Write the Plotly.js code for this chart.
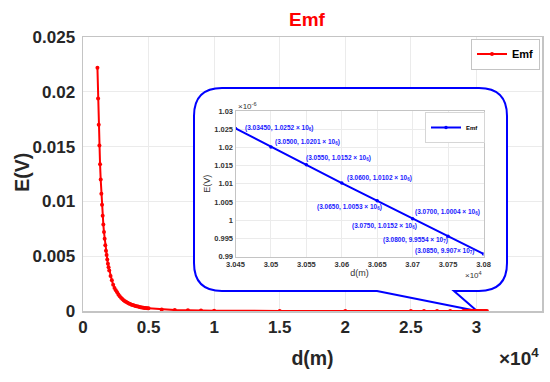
<!DOCTYPE html>
<html>
<head>
<meta charset="utf-8">
<script src="https://cdn.plot.ly/plotly-3.0.1.min.js"></script>
<style>html,body{margin:0;padding:0;background:#fff;}#chart{width:550px;height:382px;}</style>
</head>
<body>
<div id="chart"></div>
<script>
// ---- data ----
const distance = [1100,1150,1200,1250,1300,1350,1400,1450,1500,1550,1600,1650,1700,1750,1800,1850,1900,1950,2000,
  2100,2200,2300,2400,2500,2600,2700,2800,2900,3000,3100,3200,3300,3400,3500,3600,3700,3800,3900,4000,
  4100,4200,4300,4400,4500,4600,4700,4800,4900,5000,
  6000,7000,8000,9000,10000,15000,20000,25000,26000,27000,28000,
  29000,29100,29200,29300,29400,29500,29600,29700,29800,29900,30000,30100,30200,30300,30400,30500,30600,30700,30800];
const emf = [0.0222,0.0194,0.0170,0.0151,0.0134,0.0120,0.0107,0.0097,0.0087,0.0079,0.0072,0.0066,0.0060,0.0055,0.0051,0.0047,0.0043,0.0040,0.0037,
  0.0032,0.0028,0.0024,0.0021,0.0019,0.0017,0.0015,0.00135,0.0012,0.0011,0.00099,0.0009,0.00082,0.00075,0.00069,0.00063,0.00058,0.00054,0.0005,0.00046,
  0.00043,0.0004,0.00037,0.00035,0.00032,0.0003,0.00028,0.00027,0.00025,0.00024,
  0.00014,0.000086,0.000058,0.00004,0.00003,0.0000088,0.0000037,0.0000019,0.0000017,0.0000015,0.0000013,
  1.19e-6,1.17e-6,1.16e-6,1.15e-6,1.14e-6,1.12e-6,1.11e-6,1.10e-6,1.09e-6,1.08e-6,1.07e-6,1.06e-6,1.05e-6,1.04e-6,1.03e-6,1.02e-6,1.01e-6,1.00e-6,0.99e-6];

const insetDistance = [30450,30500,30550,30600,30650,30700,30750,30800];
const insetEmf = [1.0252e-6,1.0201e-6,1.0152e-6,1.0102e-6,1.0053e-6,1.0004e-6,0.99554e-6,0.9907e-6];

const xTickVals = [0,5000,10000,15000,20000,25000,30000];
const xTickText = ['0','0.5','1','1.5','2','2.5','3'];
const yTickVals = [0,0.005,0.01,0.015,0.02,0.025];
const yTickText = ['0','0.005','0.01','0.015','0.02','0.025'];
const insetXTickVals = [30450,30500,30550,30600,30650,30700,30750,30800];
const insetXTickText = ['3.045','3.05','3.055','3.06','3.065','3.07','3.075','3.08'];
const insetYTickVals = [0.99e-6,0.995e-6,1.0e-6,1.005e-6,1.01e-6,1.015e-6,1.02e-6,1.025e-6,1.03e-6];
const insetYTickText = ['0.99','0.995','1','1.005','1.01','1.015','1.02','1.025','1.03'];

const pointLabels = [
  '(3.03450, 1.0252 × 10<sub>6</sub>)',
  '(3.0500, 1.0201 × 10<sub>6</sub>)',
  '(3.0550, 1.0152 × 10<sub>6</sub>)',
  '(3.0600, 1.0102 × 10<sub>6</sub>)',
  '(3.0650, 1.0053 × 10<sub>6</sub>)',
  '(3.0700, 1.0004 × 10<sub>6</sub>)',
  '(3.0750, 1.0152 × 10<sub>6</sub>)',
  '(3.0800, 9.9554 × 10<sub>7</sub>)',
  '(3.0850, 9.907× 10<sub>7</sub>)'
];

// ---- layout helpers ----
const FONT = 'Liberation Sans, Arial, sans-serif';
const PL = 83, PR = 542, PT = 37, PB = 311;
const XMAX = 35000, YMAX = 0.025;
const dx = p => (p - PL) / (PR - PL);
const dy = p => (PB - p) / (PB - PT);

// inset plot area in pixels
const IL = 235.5, IR = 483.5, IT = 111, IB = 256.5;

// label anchor positions (pixels: left x, middle y)
const labelPos = [[242.7,128.3],[272.7,142.3],[304,157.7],[345.3,177.7],[315,207.3],[412.7,212.3],[350,225.7],[380.7,240.3],[412.7,250.7]];

const labelAnnotations = pointLabels.map((t, i) => ({
  text: t, xref: 'paper', yref: 'paper',
  x: dx(labelPos[i][0]), y: dy(labelPos[i][1]),
  xanchor: 'left', yanchor: 'middle', showarrow: false,
  font: {family: FONT, size: 6.5, color: '#1a1aff', weight: 'bold'}
}));

// callout bubble path (pixel coords -> main-axis data coords)
const r = 28;
const bL = 194, bR = 507, bT = 88, bB = 291;
function P(x, y){ return (dx(x) * XMAX).toFixed(2) + ',' + (dy(y) * YMAX).toFixed(7); }
const bubblePath =
  'M' + P(bL + r, bT) +
  ' L' + P(bR - r, bT) +
  ' Q' + P(bR, bT) + ' ' + P(bR, bT + r) +
  ' L' + P(bR, bB - r) +
  ' Q' + P(bR, bB) + ' ' + P(bR - r, bB) +
  ' L' + P(454, bB) +
  ' L' + P(477, 311) +
  ' L' + P(377, bB) +
  ' L' + P(bL + r, bB) +
  ' Q' + P(bL, bB) + ' ' + P(bL, bB - r) +
  ' L' + P(bL, bT + r) +
  ' Q' + P(bL, bT) + ' ' + P(bL + r, bT) + ' Z';

const traces = [
  {
    x: distance, y: emf, name: 'Emf', type: 'scatter', mode: 'lines+markers',
    line: {color: '#ff0000', width: 2}, marker: {color: '#ff0000', size: 4},
    xaxis: 'x', yaxis: 'y', legend: 'legend'
  },
  {
    x: insetDistance, y: insetEmf, name: 'Emf', type: 'scatter', mode: 'lines+markers',
    line: {color: '#0000ff', width: 2}, marker: {color: '#0000ff', size: 3.5},
    xaxis: 'x2', yaxis: 'y2', legend: 'legend2'
  }
];

const layout = {
  width: 550, height: 382,
  margin: {l: PL, r: 550 - PR, t: PT, b: 382 - PB},
  paper_bgcolor: '#ffffff', plot_bgcolor: '#ffffff',
  font: {family: FONT, color: '#262626'},
  title: {text: 'Emf', font: {family: FONT, size: 19, color: '#ff0000', weight: 'bold'},
          x: 307/550, xanchor: 'center', xref: 'container', y: 1 - 19.5/382, yanchor: 'middle', yref: 'container'},
  xaxis: {
    domain: [0, 1], range: [0, XMAX], tickvals: xTickVals, ticktext: xTickText,
    showgrid: true, gridcolor: '#ebebeb', zeroline: false,
    showline: true, mirror: true, linecolor: '#c4c4c4', linewidth: 1.5, ticks: '',
    tickfont: {family: FONT, size: 17, color: '#262626', weight: 'bold'},
    title: {text: 'd(m)', font: {family: FONT, size: 19.5, color: '#262626', weight: 'bold'}, standoff: 15}
  },
  yaxis: {
    domain: [0, 1], range: [0, YMAX], tickvals: yTickVals, ticktext: yTickText,
    showgrid: true, gridcolor: '#ebebeb', zeroline: false,
    showline: true, mirror: true, linecolor: '#c4c4c4', linewidth: 1.5, ticks: '',
    ticklabelstandoff: 3,
    tickfont: {family: FONT, size: 17, color: '#262626', weight: 'bold'}
  },
  xaxis2: {
    domain: [dx(IL), dx(IR)], anchor: 'y2', range: [30450, 30800],
    tickvals: insetXTickVals, ticktext: insetXTickText,
    showgrid: true, gridcolor: '#ebebeb', zeroline: false,
    showline: true, mirror: true, linecolor: '#c4c4c4', linewidth: 1, ticks: '',
    tickfont: {family: FONT, size: 7.5, color: '#333333', weight: 'bold'},
    title: {text: 'd(m)', font: {family: FONT, size: 9, color: '#333333'}, standoff: 2}
  },
  yaxis2: {
    domain: [dy(IB), dy(IT)], anchor: 'x2', range: [0.99e-6, 1.03e-6],
    tickvals: insetYTickVals, ticktext: insetYTickText,
    showgrid: true, gridcolor: '#ebebeb', zeroline: false,
    showline: true, mirror: true, linecolor: '#c4c4c4', linewidth: 1, ticks: '',
    tickfont: {family: FONT, size: 7.5, color: '#333333', weight: 'bold'},
    title: {text: 'E(V)', font: {family: FONT, size: 9, color: '#333333'}, standoff: 2}
  },
  showlegend: true,
  legend: {
    x: dx(540), xanchor: 'right', y: dy(38.5), yanchor: 'top',
    bgcolor: '#ffffff', bordercolor: '#c4c4c4', borderwidth: 1,
    font: {family: FONT, size: 11, color: '#000000', weight: 'bold'}, itemwidth: 30,
    tracegroupgap: 0
  },
  legend2: {
    x: dx(485), xanchor: 'right', y: dy(112), yanchor: 'top',
    bgcolor: '#ffffff', bordercolor: '#d6d6d6', borderwidth: 1,
    font: {family: FONT, size: 6, color: '#000000', weight: 'bold'}, itemwidth: 30,
    tracegroupgap: 0
  },
  shapes: [{
    type: 'path', path: bubblePath, xref: 'x', yref: 'y',
    layer: 'between', fillcolor: '#ffffff', line: {color: '#0000ff', width: 2}
  }],
  annotations: [
    {text: 'E(V)', xref: 'paper', yref: 'paper', x: dx(21.7), y: dy(172),
     xanchor: 'center', yanchor: 'middle', textangle: -90, showarrow: false,
     font: {family: FONT, size: 19.5, color: '#262626', weight: 'bold'}},
    {text: '×10<sup>4</sup>', xref: 'paper', yref: 'paper', x: dx(541), y: dy(357),
     xanchor: 'right', yanchor: 'middle', showarrow: false,
     font: {family: FONT, size: 19, color: '#262626', weight: 'bold'}},
    {text: '×10<sup>-6</sup>', xref: 'paper', yref: 'paper', x: dx(236), y: dy(106),
     xanchor: 'left', yanchor: 'middle', showarrow: false,
     font: {family: FONT, size: 8, color: '#333333'}},
    {text: '×10<sup>4</sup>', xref: 'paper', yref: 'paper', x: dx(484), y: dy(275),
     xanchor: 'right', yanchor: 'middle', showarrow: false,
     font: {family: FONT, size: 8, color: '#333333'}}
  ].concat(labelAnnotations)
};

Plotly.newPlot('chart', traces, layout, {displayModeBar: false, staticPlot: true});
</script>
</body>
</html>
